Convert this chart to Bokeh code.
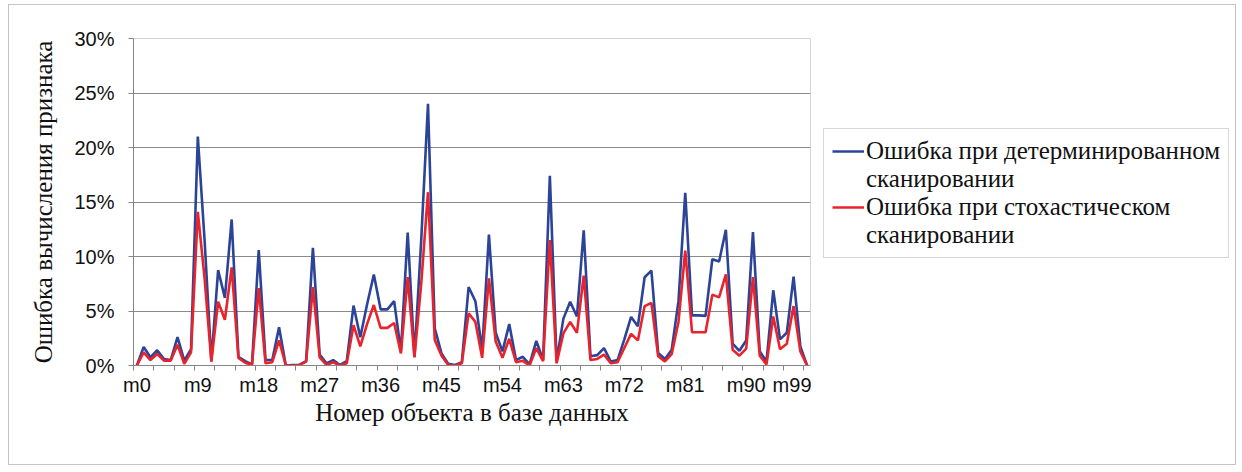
from bokeh.plotting import figure
from bokeh.layouts import row
from bokeh.models import ColumnDataSource, FixedTicker, NumeralTickFormatter, Legend, LegendItem, Range1d
from bokeh.embed import file_html
from bokeh.resources import INLINE

# ---- data ----
categories = ["m%d" % i for i in range(100)]
label_every = 9
y_ticks_pct = [0, 5, 10, 15, 20, 25, 30]

det_name = ["Ошибка при детерминированном", "сканировании"]
sto_name = ["Ошибка при стохастическом", "сканировании"]

# error, % (deterministic scanning)
det_err = [
    0.0, 1.7, 0.75, 1.4, 0.6, 0.5, 2.6, 0.45, 1.5, 21.0,
    11.5, 0.4, 8.75, 6.2, 13.4, 0.8, 0.4, 0.1, 10.6, 0.5,
    0.5, 3.5, 0.0, 0.05, 0.05, 0.4, 10.8, 1.0, 0.2, 0.5,
    0.05, 0.4, 5.5, 2.6, 5.6, 8.35, 5.15, 5.15, 5.9, 1.3,
    12.2, 0.8, 11.5, 24.0, 3.4, 1.1, 0.15, 0.05, 0.3, 7.2,
    5.9, 1.4, 12.0, 3.0, 1.3, 3.8, 0.5, 0.8, 0.1, 2.25,
    0.5, 17.4, 0.4, 4.3, 5.85, 4.5, 12.4, 0.85, 0.95, 1.6,
    0.37, 0.5, 2.4, 4.45, 3.6, 8.1, 8.7, 1.15, 0.6, 1.45,
    5.9, 15.85, 4.6, 4.6, 4.55, 9.75, 9.55, 12.45, 2.0, 1.35,
    2.3, 12.25, 1.3, 0.37, 6.9, 2.4, 3.0, 8.15, 1.75, 0.0,
]
# error, % (stochastic scanning)
sto_err = [
    0.0, 1.2, 0.5, 1.05, 0.45, 0.45, 1.9, 0.15, 1.2, 14.1,
    8.0, 0.35, 5.85, 4.2, 9.0, 0.7, 0.25, 0.05, 7.1, 0.2,
    0.3, 2.3, 0.0, 0.0, 0.05, 0.35, 7.2, 0.75, 0.05, 0.3,
    0.0, 0.2, 3.7, 1.75, 3.8, 5.55, 3.45, 3.45, 3.9, 1.1,
    8.1, 0.75, 7.5, 15.9, 2.35, 0.9, 0.05, 0.0, 0.2, 4.8,
    4.0, 0.7, 8.0, 2.2, 0.7, 2.45, 0.3, 0.43, 0.0, 1.6,
    0.4, 11.5, 0.2, 2.95, 4.0, 3.0, 8.25, 0.5, 0.6, 1.0,
    0.2, 0.3, 1.6, 2.9, 2.3, 5.45, 5.75, 0.85, 0.37, 1.05,
    4.0, 10.55, 3.05, 3.05, 3.05, 6.5, 6.25, 8.35, 1.45, 0.9,
    1.55, 8.1, 0.9, 0.1, 4.5, 1.5, 2.0, 5.45, 1.3, 0.0,
]

n = len(categories)
src = ColumnDataSource(dict(
    x=list(range(n)),
    det=[v / 100 for v in det_err],
    sto=[v / 100 for v in sto_err],
))

BLUE = "#2c4497"
RED = "#e8232b"
H = 459

# ---------------- main chart ----------------
p = figure(
    width=802, height=H,
    output_backend="svg", toolbar_location=None,
    x_range=Range1d(-0.5, n - 0.5), y_range=Range1d(0, 0.30),
    min_border_left=124, min_border_top=33, min_border_bottom=99, min_border_right=1,
    background_fill_color="white", border_fill_color="white",
)
p.outline_line_color = "#d4d4d4"

r_det = p.line("x", "det", source=src, line_color=BLUE, line_width=2.6)
r_sto = p.line("x", "sto", source=src, line_color=RED, line_width=2.6)

# y axis
p.yaxis.ticker = FixedTicker(ticks=[t / 100 for t in y_ticks_pct])
p.yaxis.formatter = NumeralTickFormatter(format="0%")
p.yaxis.axis_label = "Ошибка вычисления признака"
p.yaxis.major_tick_out = 5
p.yaxis.major_tick_in = 0
p.yaxis.minor_tick_out = 0
p.yaxis.minor_tick_in = 0
p.yaxis.major_label_standoff = 14
p.yaxis.axis_label_standoff = 14

# x axis
label_pos = list(range(0, n, label_every))
p.xaxis.ticker = FixedTicker(ticks=label_pos, minor_ticks=[k - 0.5 for k in range(0, n, 3)])
p.xaxis.major_label_overrides = {i: categories[i] for i in label_pos}
p.xaxis.axis_label = "Номер объекта в базе данных"
p.xaxis.major_tick_out = 0
p.xaxis.major_tick_in = 0
p.xaxis.minor_tick_out = 5
p.xaxis.minor_tick_in = 0
p.xaxis.major_label_standoff = 3
p.xaxis.axis_label_standoff = 0

for ax in (p.xaxis, p.yaxis):
    ax.axis_line_color = "#868686"
    ax.major_tick_line_color = "#868686"
    ax.minor_tick_line_color = "#868686"
    ax.major_label_text_font = "Liberation Sans"
    ax.major_label_text_font_size = "20px"
    ax.major_label_text_color = "#111111"
    ax.axis_label_text_font = "Liberation Serif"
    ax.axis_label_text_font_size = "25px"
    ax.axis_label_text_font_style = "normal"
    ax.axis_label_text_color = "#111111"

p.xgrid.grid_line_color = None
p.ygrid.grid_line_color = "#8a8a8a"
p.ygrid.grid_line_width = 1

# ---------------- legend panel ----------------
q = figure(
    width=424, height=H,
    output_backend="svg", toolbar_location=None,
    x_range=Range1d(0, 1), y_range=Range1d(0, 1),
    x_axis_type=None, y_axis_type=None,
    min_border=0, outline_line_color=None,
    background_fill_color="white", border_fill_color="white",
)
q.xgrid.visible = False
q.ygrid.visible = False
# legend proxies share the series' data but lie outside this panel's visible range
q_src = ColumnDataSource(dict(x=[x + 10 for x in src.data["x"][:2]], y=src.data["det"][:2]))
l_det = q.line("x", "y", source=q_src, line_color=BLUE, line_width=2.6)
l_sto = q.line("x", "y", source=q_src, line_color=RED, line_width=2.6)
l_pad1 = q.line("x", "y", source=q_src, line_alpha=0)
l_pad2 = q.line("x", "y", source=q_src, line_alpha=0)

legend = Legend(
    items=[LegendItem(label=det_name[0], renderers=[l_det]),
           LegendItem(label=det_name[1], renderers=[l_pad1]),
           LegendItem(label=sto_name[0], renderers=[l_sto]),
           LegendItem(label=sto_name[1], renderers=[l_pad2])],
    location=(12, 107),
    label_text_font="Liberation Serif",
    label_text_font_size="25px",
    label_text_color="#111111",
    label_standoff=2,
    label_height=26,
    glyph_width=32,
    glyph_height=26,
    spacing=0,
    padding=8,
    margin=0,
    border_line_color="#b0b0b0",
    background_fill_color="white",
)
q.add_layout(legend, "center")

layout = row(p, q)
layout.margin = (4, 0, 0, 8)
layout.styles = {"border": "1px solid #c4c4c4"}

open("out.html", "w").write(file_html(layout, INLINE))
